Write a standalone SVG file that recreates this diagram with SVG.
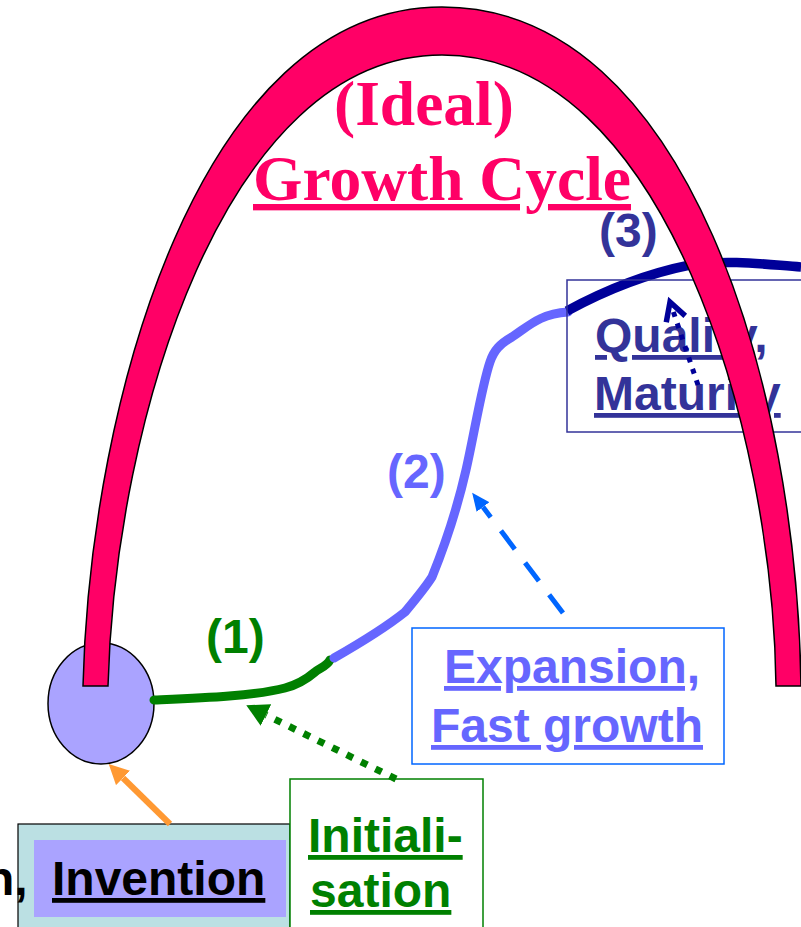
<svg xmlns="http://www.w3.org/2000/svg" width="801" height="927" viewBox="0 0 801 927">
<style>
.lbl{font-family:"Liberation Sans",Arial,sans-serif;font-weight:bold;font-size:48px}
.ul{text-decoration:underline}
.title{font-family:"Liberation Serif","Times New Roman",serif;font-weight:bold;font-size:63.5px;fill:#FF0066}
.curve{fill:none;stroke-linecap:round;stroke-linejoin:round}
</style>
<defs>
<marker id="ahOrange" markerUnits="userSpaceOnUse" markerWidth="20" markerHeight="20" viewBox="0 0 20 20" refX="0" refY="10" orient="auto"><path d="M0,0 L20,10 L0,20 Z" fill="#FF9933"/></marker>
<marker id="ahGreen" markerUnits="userSpaceOnUse" markerWidth="22" markerHeight="24" viewBox="0 0 22 24" refX="0" refY="12" orient="auto"><path d="M0,0 L22,12 L0,24 Z" fill="#008000"/></marker>
<marker id="ahBlue" markerUnits="userSpaceOnUse" markerWidth="18" markerHeight="16" viewBox="0 0 18 16" refX="0" refY="8" orient="auto"><path d="M0,0 L18,8 L0,16 Z" fill="#0066FF"/></marker>
<marker id="ahNavy" markerUnits="userSpaceOnUse" markerWidth="26" markerHeight="26" viewBox="0 0 26 26" refX="20" refY="13" orient="auto"><path d="M2,3 L20,13 L2,23" fill="none" stroke="#000099" stroke-width="5.5"/></marker>
</defs>
<rect width="801" height="927" fill="#FFFFFF"/>

<g id="origin">
<ellipse cx="101" cy="703.5" rx="53" ry="60.5" fill="#AAA3FF" stroke="#000" stroke-width="1.5"/>
</g>

<g id="growth-curve">
<path class="curve" d="M154,700 C200,698 255,696 285,688 C300,684 308,678 315,672 C320,668 327,666 330,660" stroke="#008000" stroke-width="9"/>
<path class="curve" d="M334,658 C355,646 385,628 405,612 C415,600 425,588 432,577 C445,545 458,505 466,470 C474,435 482,385 490,362 C494,350 500,344 512,337 C530,325 540,314 568,312" stroke="#6666FF" stroke-width="9"/>
<path d="M567,311 C600,293 640,275 690,265 C730,259 770,265 801,267" fill="none" stroke="#000099" stroke-width="9.5"/>
</g>

<g id="invention">
<rect x="18" y="824" width="272" height="120" fill="#BBE0E3" stroke="#000" stroke-width="1.2"/>
<rect x="34" y="840" width="252" height="77" fill="#AAA3FF"/>
<text class="lbl ul" x="52" y="895" fill="#000">Invention</text>
<text class="lbl" x="-15" y="895" fill="#000">n,</text>
</g>

<g id="initialisation">
<rect x="290" y="779" width="193" height="165" fill="#FFFFFF" stroke="#008000" stroke-width="1.5"/>
<text class="lbl ul" x="308" y="852" fill="#008000">Initiali-</text>
<text class="lbl ul" x="310" y="907" fill="#008000">sation</text>
</g>

<g id="expansion">
<rect x="412" y="628" width="312" height="136" fill="#FFFFFF" stroke="#0066FF" stroke-width="1.5"/>
<text class="lbl ul" x="444" y="683" fill="#6666FF">Expansion,</text>
<text class="lbl ul" x="431" y="742" fill="#6666FF">Fast growth</text>
</g>

<g id="quality">
<rect x="567" y="280" width="236" height="152" fill="none" stroke="#333399" stroke-width="1.5"/>
<text class="lbl ul" x="595" y="352" fill="#333399">Quality,</text>
<text class="lbl ul" x="594" y="410" fill="#333399">Maturity</text>
</g>

<g id="connectors">
<line x1="170" y1="824" x2="123" y2="778" stroke="#FF9933" stroke-width="6" marker-end="url(#ahOrange)"/>
<line x1="396" y1="779" x2="266" y2="715" stroke="#008000" stroke-width="7" stroke-dasharray="7 9" marker-end="url(#ahGreen)"/>
<line x1="563" y1="613" x2="483" y2="507" stroke="#0066FF" stroke-width="5" stroke-dasharray="23 17" marker-end="url(#ahBlue)"/>
<line x1="698" y1="385" x2="670" y2="302" stroke="#000099" stroke-width="5" stroke-dasharray="5 7" marker-end="url(#ahNavy)"/>
</g>

<g id="arch">
<path d="M83,686 C90,400 200,7 442,7 C689,7 797,390 801,686 L776,686 C773,430 664,55 442,55 C225,55 115,420 108,686 Z" fill="#FF0066" stroke="#000" stroke-width="1.5"/>
</g>

<g id="title">
<text class="title" x="334" y="125">(Ideal)</text>
<text class="title ul" x="253" y="200">Growth Cycle</text>
</g>

<g id="phase-labels">
<text class="lbl" x="206" y="653" fill="#008000">(1)</text>
<text class="lbl" x="387" y="488" fill="#6666FF">(2)</text>
<text class="lbl" x="599" y="247" fill="#333399">(3)</text>
</g>
</svg>
